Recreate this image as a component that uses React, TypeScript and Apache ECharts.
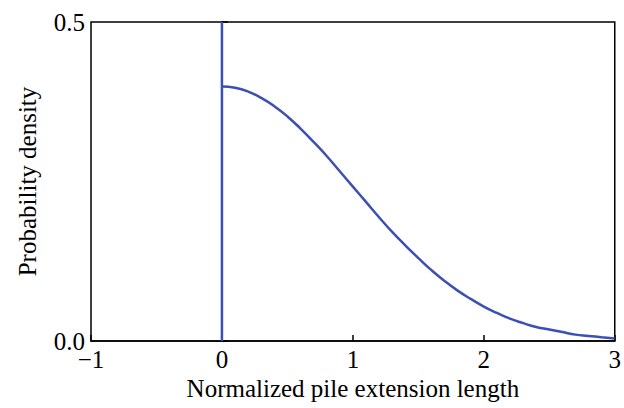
import React, { useEffect, useRef } from "react";
import * as echarts from "echarts";

const xValues = [0, 0.1, 0.2, 0.3, 0.4, 0.5, 0.6, 0.7, 0.8, 0.9, 1.0, 1.1, 1.2, 1.3, 1.4, 1.5, 1.6, 1.7, 1.8, 1.9, 2.0, 2.1, 2.2, 2.3, 2.4, 2.5, 2.6, 2.7, 2.8, 2.9, 3.0];
const densityValues = [0.399, 0.397, 0.391, 0.381, 0.368, 0.352, 0.333, 0.312, 0.290, 0.266, 0.242, 0.218, 0.194, 0.171, 0.150, 0.130, 0.111, 0.094, 0.079, 0.066, 0.054, 0.044, 0.035, 0.028, 0.022, 0.018, 0.014, 0.010, 0.008, 0.006, 0.004];
const verticalLine = [[0, 0], [0, 0.5]];
const xTicks = [-1, 0, 1, 2, 3];
const yTicks = [0, 0.5];

const FONT = "Liberation Serif";
const BLUE = "#3c4fb4";

export default function App() {
  const ref = useRef<HTMLDivElement>(null);
  useEffect(() => {
    if (!ref.current) return;
    const chart = echarts.init(ref.current, null, { renderer: "svg" });
    chart.setOption({
      animation: false,
      backgroundColor: "#ffffff",
      grid: {
        left: 91,
        right: 4,
        top: 22,
        bottom: 67,
        show: true,
        borderColor: "#000",
        borderWidth: 1.5,
      },
      xAxis: {
        type: "value",
        min: xTicks[0],
        max: xTicks[xTicks.length - 1],
        interval: 1,
        name: "Normalized pile extension length",
        nameLocation: "middle",
        nameGap: 30,
        nameTextStyle: { fontFamily: FONT, fontSize: 25, color: "#000" },
        axisLine: { lineStyle: { color: "#000", width: 1.5 } },
        axisTick: { inside: true, length: 6, lineStyle: { color: "#000", width: 1.5 } },
        axisLabel: {
          fontFamily: FONT,
          fontSize: 25,
          lineHeight: 20,
          color: "#000",
          margin: 8,
          formatter: (v: number) => (v < 0 ? "\u2212" + Math.abs(v) : String(v)),
        },
        splitLine: { show: false },
      },
      yAxis: {
        type: "value",
        min: yTicks[0],
        max: yTicks[yTicks.length - 1],
        interval: 0.5,
        name: "Probability density",
        nameLocation: "middle",
        nameGap: 51,
        nameTextStyle: { fontFamily: FONT, fontSize: 25, color: "#000" },
        axisLine: { lineStyle: { color: "#000", width: 1.5 } },
        axisTick: { inside: true, length: 6, lineStyle: { color: "#000", width: 1.5 } },
        axisLabel: {
          fontFamily: FONT,
          fontSize: 25,
          lineHeight: 16,
          color: "#000",
          margin: 6,
          formatter: (v: number) => v.toFixed(1),
        },
        splitLine: { show: false },
      },
      series: [
        {
          type: "line",
          data: xValues.map((x, i) => [x, densityValues[i]]),
          smooth: true,
          showSymbol: false,
          lineStyle: { color: BLUE, width: 2.5 },
        },
        {
          type: "line",
          data: verticalLine,
          showSymbol: false,
          lineStyle: { color: BLUE, width: 2.5 },
        },
      ],
    });
    return () => chart.dispose();
  }, []);
  return <div ref={ref} style={{ width: 624, height: 408, position: "absolute", left: 0, top: 0 }} />;
}
